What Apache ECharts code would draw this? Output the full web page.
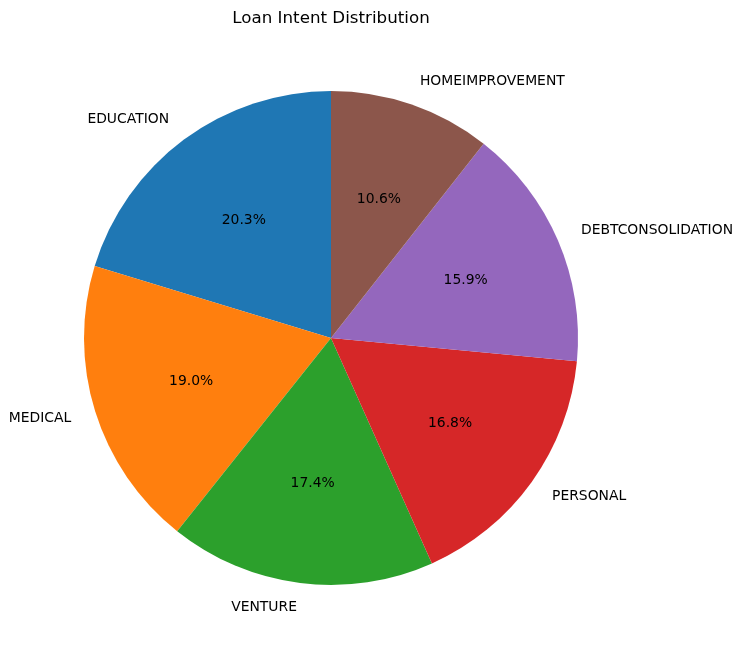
<!DOCTYPE html>
<html>
<head>
<meta charset="utf-8">
<script src="https://cdn.jsdelivr.net/npm/echarts@6/dist/echarts.min.js"></script>
<style>
  html, body { margin: 0; padding: 0; background: #fff; }
  #chart { width: 742px; height: 656px; }
</style>
</head>
<body>
<div id="chart"></div>
<script>
var categories = ['EDUCATION', 'MEDICAL', 'VENTURE', 'PERSONAL', 'DEBTCONSOLIDATION', 'HOMEIMPROVEMENT'];
var shares = [20.3, 19.0, 17.4, 16.8, 15.9, 10.6];
var colors = ['#1f77b4', '#ff7f0e', '#2ca02c', '#d62728', '#9467bd', '#8c564b'];

var initChart = function () {
    var chart = echarts.init(document.getElementById('chart'));
    var radius = 247;
    var center = [331, 338];
    var font = 'DejaVu Sans';

    var data = categories.map(function (name, i) {
        return { name: name, value: shares[i], itemStyle: { color: colors[i] } };
    });
    var total = shares.reduce(function (a, b) { return a + b; }, 0);

    var option = {
        animation: false,
        title: {
            text: 'Loan Intent Distribution',
            left: 326,
            top: 5,
            textAlign: 'center',
            textStyle: { fontFamily: font, fontSize: 16.7, fontWeight: 'normal', color: '#000' }
        },
        series: [
            {
                type: 'pie',
                center: center,
                radius: [0, radius],
                startAngle: 90,
                clockwise: false,
                avoidLabelOverlap: false,
                silent: true,
                data: data,
                label: {
                    show: true,
                    position: 'outside',
                    distanceToLabelLine: 0,
                    fontFamily: font,
                    fontSize: 13.9,
                    color: '#000',
                    formatter: '{b}'
                },
                labelLine: { show: false, length: 25, length2: 0 }
            },
            {
                // transparent copy so the percentage sits at about 0.6 of the radius
                type: 'pie',
                center: center,
                radius: [0, radius * 1.162],
                startAngle: 90,
                clockwise: false,
                silent: true,
                z: 3,
                data: categories.map(function (name, i) {
                    return { name: name, value: shares[i], itemStyle: { color: 'transparent' } };
                }),
                label: {
                    show: true,
                    position: 'inside',
                    fontFamily: font,
                    fontSize: 13.9,
                    color: '#000',
                    formatter: function (p) {
                        return (p.value / total * 100).toFixed(1) + '%';
                    }
                },
                labelLine: { show: false }
            }
        ]
    };
    chart.setOption(option);
};

initChart();
</script>
</body>
</html>
